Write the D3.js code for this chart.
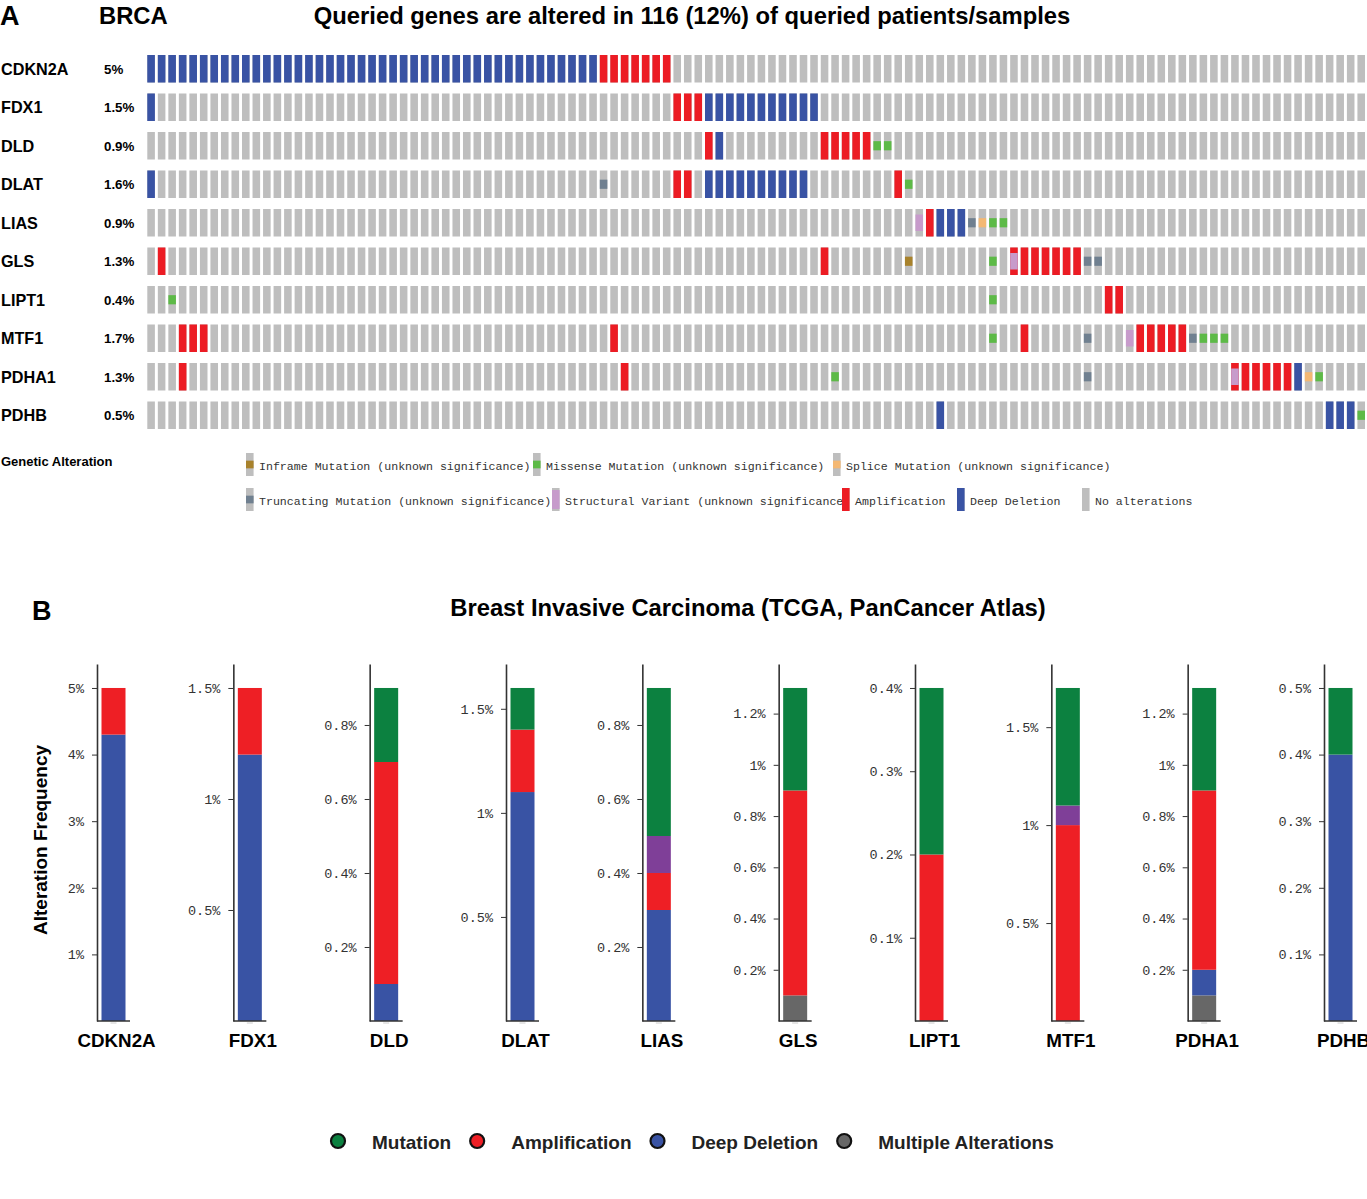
<!DOCTYPE html>
<html>
<head>
<meta charset="utf-8">
<script src="https://cdn.jsdelivr.net/npm/d3@7"></script>
<style>
  body { margin: 0; background: #fff; }
  text { font-family: "Liberation Sans", Arial, sans-serif; }
  .mono { font-family: "Liberation Mono", monospace; }
</style>
</head>
<body>
<svg id="chart" width="1367" height="1199"></svg>
<script>
// genes, in the order of both panels
var genes = ['CDKN2A', 'FDX1', 'DLD', 'DLAT', 'LIAS', 'GLS', 'LIPT1', 'MTF1', 'PDHA1', 'PDHB'];
var genePct = ['5%', '1.5%', '0.9%', '1.6%', '0.9%', '1.3%', '0.4%', '1.7%', '1.3%', '0.5%'];
var nSamples = 116;

// oncoprint runs per gene: [first column, last column, code]
// D deep deletion, A amplification, M missense, I inframe, T truncating,
// S splice, V structural variant, X amplification + structural variant
var runsCDKN2A = [[0, 42, 'D'], [43, 49, 'A']];
var runsFDX1 = [[0, 0, 'D'], [50, 52, 'A'], [53, 63, 'D']];
var runsDLD = [[53, 53, 'A'], [54, 54, 'D'], [64, 68, 'A'], [69, 70, 'M']];
var runsDLAT = [[0, 0, 'D'], [43, 43, 'T'], [50, 51, 'A'], [53, 62, 'D'], [71, 71, 'A'], [72, 72, 'M']];
var runsLIAS = [[73, 73, 'V'], [74, 74, 'A'], [75, 77, 'D'], [78, 78, 'T'], [79, 79, 'S'], [80, 81, 'M']];
var runsGLS = [[1, 1, 'A'], [64, 64, 'A'], [72, 72, 'I'], [80, 80, 'M'], [82, 82, 'X'], [83, 88, 'A'], [89, 90, 'T']];
var runsLIPT1 = [[2, 2, 'M'], [80, 80, 'M'], [91, 92, 'A']];
var runsMTF1 = [[3, 5, 'A'], [44, 44, 'A'], [80, 80, 'M'], [83, 83, 'A'], [89, 89, 'T'], [93, 93, 'V'],
                [94, 98, 'A'], [99, 99, 'T'], [100, 102, 'M']];
var runsPDHA1 = [[3, 3, 'A'], [45, 45, 'A'], [65, 65, 'M'], [89, 89, 'T'], [103, 103, 'X'], [104, 108, 'A'],
                 [109, 109, 'D'], [110, 110, 'S'], [111, 111, 'M']];
var runsPDHB = [[75, 75, 'D'], [112, 114, 'D'], [115, 115, 'M']];
var geneRuns = [runsCDKN2A, runsFDX1, runsDLD, runsDLAT, runsLIAS, runsGLS, runsLIPT1, runsMTF1, runsPDHA1, runsPDHB];

// panel B: alteration frequency (%) by type
var freqMultiple = [0, 0, 0, 0, 0, 0.1, 0, 0, 0.1, 0];
var freqDeepDel = [4.3, 1.2, 0.1, 1.1, 0.3, 0, 0, 0, 0.1, 0.4];
var freqAmp = [0.7, 0.3, 0.6, 0.3, 0.1, 0.8, 0.2, 1.0, 0.7, 0];
var freqSV = [0, 0, 0, 0, 0.1, 0, 0, 0.1, 0, 0];
var freqMutation = [0, 0, 0.2, 0.2, 0.4, 0.4, 0.2, 0.6, 0.4, 0.1];
var yTicks = [[1, 2, 3, 4, 5], [0.5, 1, 1.5], [0.2, 0.4, 0.6, 0.8], [0.5, 1, 1.5], [0.2, 0.4, 0.6, 0.8],
              [0.2, 0.4, 0.6, 0.8, 1, 1.2], [0.1, 0.2, 0.3, 0.4], [0.5, 1, 1.5],
              [0.2, 0.4, 0.6, 0.8, 1, 1.2], [0.1, 0.2, 0.3, 0.4, 0.5]];

var onco = {
  N: '#bebebe', D: '#3953a4', A: '#ec1c24', M: '#5dba47', I: '#a8822c',
  T: '#708090', S: '#f4b873', V: '#c79bcb'
};
var barColors = { multiple: '#676767', deepDel: '#3953a4', amp: '#ee1f25', sv: '#7f3f98', mutation: '#0c8140' };

var svg = d3.select('#chart');

// ---------- panel A ----------
svg.append('text').attr('x', 0).attr('y', 25).attr('font-size', 27).attr('font-weight', 'bold').text('A');
svg.append('text').attr('x', 99).attr('y', 24).attr('font-size', 23.8).attr('font-weight', 'bold').text('BRCA');
svg.append('text').attr('x', 692).attr('y', 24).attr('text-anchor', 'middle')
  .attr('font-size', 23.8).attr('font-weight', 'bold')
  .text('Queried genes are altered in 116 (12%) of queried patients/samples');

var x = d3.scaleBand().domain(d3.range(nSamples)).range([147.3, 1365]).paddingInner(0.28);
var y = d3.scaleBand().domain(genes).range([55, 429]).paddingInner(0.2857);
var h = y.bandwidth();

var rows = svg.append('g').selectAll('g').data(genes).join('g')
  .attr('transform', function(d) { return 'translate(0,' + y(d) + ')'; });

rows.append('text').attr('x', 1).attr('y', h / 2 + 6)
  .attr('font-size', 16.2).attr('font-weight', 'bold').text(function(d) { return d; });
rows.append('text').attr('x', 104).attr('y', h / 2 + 5)
  .attr('font-size', 13.3).attr('font-weight', 'bold').text(function(d, i) { return genePct[i]; });

rows.selectAll('rect.bg').data(d3.range(nSamples)).join('rect')
  .attr('class', 'bg').attr('x', function(d) { return x(d); }).attr('y', 0)
  .attr('width', x.bandwidth()).attr('height', h).attr('fill', onco.N);

// expand runs into single cells
var cells = [];
geneRuns.forEach(function(runs, gi) {
  runs.forEach(function(r) {
    d3.range(r[0], r[1] + 1).forEach(function(c) { cells.push({ gene: genes[gi], col: c, code: r[2] }); });
  });
});

function drawCell(g, code, cx, cy, w, hh, svFrac) {
  if (code === 'D' || code === 'A' || code === 'X') {
    g.append('rect').attr('x', cx).attr('y', cy).attr('width', w).attr('height', hh)
      .attr('fill', code === 'D' ? onco.D : onco.A);
  }
  if (code === 'V' || code === 'X') {
    g.append('rect').attr('x', cx).attr('y', cy + hh * (1 - svFrac) / 2).attr('width', w)
      .attr('height', hh * svFrac).attr('fill', onco.V);
  }
  if ('MITS'.indexOf(code) >= 0) {
    g.append('rect').attr('x', cx).attr('y', cy + hh / 3).attr('width', w).attr('height', hh / 3)
      .attr('fill', onco[code]);
  }
}

var cellG = svg.append('g');
cells.forEach(function(c) { drawCell(cellG, c.code, x(c.col), y(c.gene), x.bandwidth(), h, 0.6); });

// legend of panel A
svg.append('text').attr('x', 1).attr('y', 466).attr('font-size', 13).attr('font-weight', 'bold')
  .text('Genetic Alteration');

var legendA = [
  { x: 246, row: 0, code: 'I', label: 'Inframe Mutation (unknown significance)' },
  { x: 533, row: 0, code: 'M', label: 'Missense Mutation (unknown significance)' },
  { x: 833, row: 0, code: 'S', label: 'Splice Mutation (unknown significance)' },
  { x: 246, row: 1, code: 'T', label: 'Truncating Mutation (unknown significance)' },
  { x: 552, row: 1, code: 'V', label: 'Structural Variant (unknown significance)' },
  { x: 842, row: 1, code: 'A', label: 'Amplification' },
  { x: 957, row: 1, code: 'D', label: 'Deep Deletion' },
  { x: 1082, row: 1, code: 'N', label: 'No alterations' }
];
var legG = svg.append('g');
legendA.forEach(function(it) {
  var top = 453 + it.row * 35;
  legG.append('rect').attr('x', it.x).attr('y', top).attr('width', x.bandwidth()).attr('height', 23)
    .attr('fill', onco.N);
  drawCell(legG, it.code, it.x, top, x.bandwidth(), 23, 0.82);
  legG.append('text').attr('class', 'mono').attr('x', it.x + 13).attr('y', top + 16.5)
    .attr('font-size', 11.6).attr('fill', '#333').text(it.label);
});

// ---------- panel B ----------
svg.append('text').attr('x', 32).attr('y', 620).attr('font-size', 27).attr('font-weight', 'bold').text('B');
svg.append('text').attr('x', 748).attr('y', 616).attr('text-anchor', 'middle')
  .attr('font-size', 23.8).attr('font-weight', 'bold')
  .text('Breast Invasive Carcinoma (TCGA, PanCancer Atlas)');
svg.append('text').attr('transform', 'translate(47,840) rotate(-90)').attr('text-anchor', 'middle')
  .attr('font-size', 19).attr('font-weight', 'bold').text('Alteration Frequency');

var keys = ['multiple', 'deepDel', 'amp', 'sv', 'mutation'];
var table = genes.map(function(g, i) {
  return { gene: g, multiple: freqMultiple[i], deepDel: freqDeepDel[i], amp: freqAmp[i],
           sv: freqSV[i], mutation: freqMutation[i] };
});
var stacked = d3.stack().keys(keys)(table);

var xB = d3.scalePoint().domain(genes).range([97, 1324]);
var yBottom = 1021, yTop = 664, barW = 24;

genes.forEach(function(g, i) {
  var ax = xB(g);
  var total = d3.sum(keys, function(k) { return table[i][k]; });
  var yS = d3.scaleLinear().domain([0, total * 1.072]).range([yBottom, yTop]);
  var panel = svg.append('g').attr('transform', 'translate(' + ax + ',0)');

  stacked.forEach(function(layer) {
    var seg = layer[i];
    if (seg[1] - seg[0] <= 0) return;
    panel.append('rect').attr('x', 4.5).attr('width', barW)
      .attr('y', yS(seg[1])).attr('height', yS(seg[0]) - yS(seg[1]))
      .attr('fill', barColors[layer.key]);
  });

  var axis = panel.append('g').call(d3.axisLeft(yS).tickValues(yTicks[i]).tickSize(5).tickSizeOuter(0)
    .tickPadding(8).tickFormat(function(d) { return d + '%'; }));
  axis.select('.domain').attr('stroke', '#333').attr('stroke-width', 1.6);
  axis.selectAll('.tick line').attr('stroke', '#333');
  axis.selectAll('.tick text').attr('class', 'mono').attr('font-size', 13.5).attr('fill', '#333')
    .attr('font-family', '"Liberation Mono", monospace');

  panel.append('line').attr('x1', 0).attr('x2', 33).attr('y1', yBottom).attr('y2', yBottom)
    .attr('stroke', '#333').attr('stroke-width', 1.6);
  panel.append('line').attr('x1', 4.5 + barW / 2 - 3).attr('x2', 4.5 + barW / 2 + 3)
    .attr('y1', yBottom + 2).attr('y2', yBottom + 2).attr('stroke', '#ccc').attr('stroke-width', 1);

  panel.append('text').attr('x', 4.5 + barW / 2 + 3).attr('y', 1047).attr('text-anchor', 'middle')
    .attr('font-size', 18.8).attr('font-weight', 'bold').text(g);
});

// legend of panel B
var legendB = [
  { key: 'mutation', label: 'Mutation' },
  { key: 'amp', label: 'Amplification' },
  { key: 'deepDel', label: 'Deep Deletion' },
  { key: 'multiple', label: 'Multiple Alterations' }
];
var lx = 338;
legendB.forEach(function(it) {
  svg.append('circle').attr('cx', lx).attr('cy', 1141).attr('r', 7)
    .attr('fill', barColors[it.key]).attr('stroke', '#111').attr('stroke-width', 2.2);
  var t = svg.append('text').attr('x', lx + 34).attr('y', 1149).attr('font-size', 19)
    .attr('font-weight', 'bold').attr('fill', '#222').text(it.label);
  lx += 34 + t.node().getComputedTextLength() + 26;
});
</script>
</body>
</html>
